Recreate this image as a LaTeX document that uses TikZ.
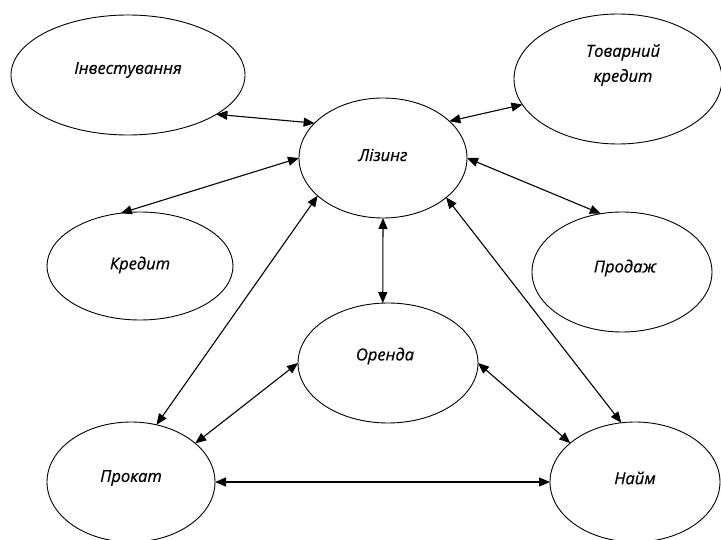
\documentclass[tikz,border=0pt]{standalone}
\usepackage{fontspec}
\setmainfont{Open Sans}
\newfontfamily\lblfont[ItalicFeatures={FakeBold=0.5}]{Open Sans}
\usetikzlibrary{shapes.geometric,arrows.meta}
\begin{document}
\begin{tikzpicture}[x=1pt,y=-1pt,
  ell/.style={draw,ellipse,line width=0.9pt,inner sep=0pt,outer sep=0pt},
  lbl/.style={font=\lblfont\fontsize{16.5}{25}\selectfont\itshape,align=center,inner sep=0pt},
  link/.style={line width=1.1pt,{Triangle[length=11pt,width=9pt]}-{Triangle[length=11pt,width=9pt]}}]
\useasboundingbox (0,0) rectangle (721,540);
\node[ell,minimum width=234pt,minimum height=120pt] (inv) at (128,75) {};
\node[ell,minimum width=208pt,minimum height=130pt] (tov) at (618,79) {};
\node[ell,minimum width=168pt,minimum height=120pt] (lis) at (383,158) {};
\node[ell,minimum width=186pt,minimum height=108pt] (kre) at (140,266) {};
\node[ell,minimum width=180pt,minimum height=120pt] (pro) at (622,272) {};
\node[ell,minimum width=180pt,minimum height=120pt] (ore) at (388,363) {};
\node[ell,minimum width=168pt,minimum height=120pt] (prk) at (131,482) {};
\node[ell,minimum width=170pt,minimum height=120pt] (nai) at (635,482) {};
\node[lbl] (tinv) at (128,70) {Інвестування};
\node[lbl] (ttov) at (623,65) {Товарний\\кредит};
\node[lbl] (tlis) at (383,155) {Лізинг};
\node[lbl] (tkre) at (140,265) {Кредит};
\node[lbl] (tpro) at (625,268) {Продаж};
\node[lbl] (tore) at (385,356) {Оренда};
\node[lbl] (tprk) at (131,478) {Прокат};
\node[lbl] (tnai) at (635,478) {Найм};
\draw[link] (inv.-24) -- (lis.153);
\draw[link] (kre.110) -- (lis.180);
\draw[link] (lis.210) -- (prk.66);
\draw[link] (ore.180) -- (prk.31);
\draw[link] (prk.0) -- (nai.180);
\draw[link] (ore.0) -- (nai.149);
\draw[link] (lis.-32) -- (nai.103);
\draw[link] (lis.-90) -- (ore.95);
\draw[link] (lis.0) -- (pro.110);
\draw[link] (lis.29) -- (tov.195);
\end{tikzpicture}
\end{document}
